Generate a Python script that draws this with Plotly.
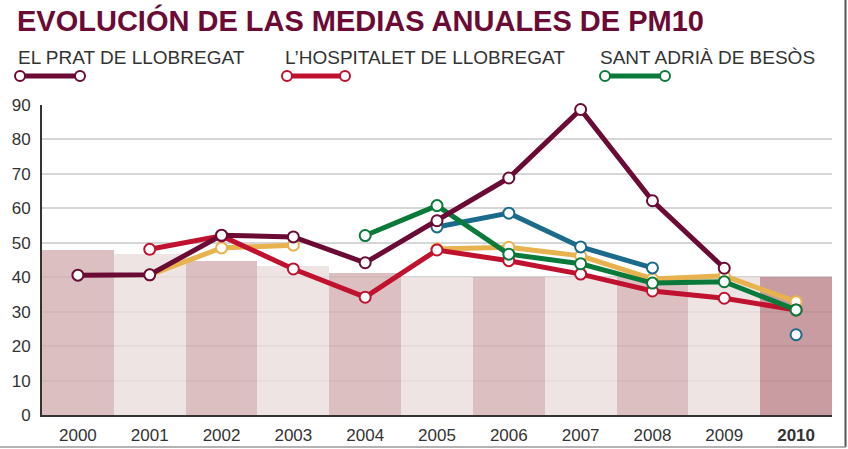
import plotly.graph_objects as go

years = [2000, 2001, 2002, 2003, 2004, 2005, 2006, 2007, 2008, 2009, 2010]
tick_labels = ["2000", "2001", "2002", "2003", "2004", "2005", "2006", "2007", "2008", "2009", "<b>2010</b>"]

# background bars (annual reference values)
bar_values = [48.0, 46.8, 44.8, 43.3, 41.3, 40.1, 40.0, 40.0, 40.0, 40.0, 40.0]

el_prat = [40.6, 40.7, 52.2, 51.7, 44.2, 56.4, 68.8, 88.7, 62.2, 42.6, None]
hospitalet = [None, 48.1, 52.0, 42.4, 34.2, 47.9, 44.8, 40.9, 36.0, 33.9, 30.5]
sant_adria = [None, None, None, None, 52.1, 60.8, 46.7, 43.9, 38.3, 38.7, 30.5]
yellow_series = [None, 40.7, 48.5, 49.3, None, 48.2, 48.7, 46.2, 39.5, 40.4, 32.9]
blue_series = [None, None, None, None, None, 54.6, 58.6, 48.8, 42.7, None, 23.3]

legend_names = ["EL PRAT DE LLOBREGAT", "L\u2019HOSPITALET DE LLOBREGAT", "SANT ADRI\u00c0 DE BES\u00d2S"]
title_text = "EVOLUCI\u00d3N DE LAS MEDIAS ANUALES DE PM10"

MAROON = "#6b0a35"
RED = "#c0112f"
GREEN = "#0a7a3a"
YELLOW = "#e8b24e"
BLUE = "#1b6b8c"

bar_colors = ["rgba(210,175,178,0.8)" if i % 2 == 0 else "rgba(235,221,221,0.8)" for i in range(len(years))]
bar_colors[-1] = "rgba(188,131,139,0.8)"

fig = go.Figure()
fig.add_trace(go.Bar(x=years, y=bar_values, marker=dict(color=bar_colors, line=dict(width=0)),
                     width=1, hoverinfo="skip", showlegend=False))

def add_line(vals, color):
    fig.add_trace(go.Scatter(
        x=years, y=vals, mode="lines+markers", connectgaps=False, showlegend=False,
        line=dict(color=color, width=5),
        marker=dict(size=11, color="white", line=dict(color=color, width=2)),
        cliponaxis=False))

add_line(yellow_series, YELLOW)
add_line(blue_series, BLUE)
add_line(hospitalet, RED)
add_line(sant_adria, GREEN)
add_line(el_prat, MAROON)

FW, FH = 848, 449
# plot area in page pixels
L, R, T, B = 42, 832, 105, 415
W, H = R - L, B - T
def px(xp):
    return (xp - L) / W
def py(yp):
    return (B - yp) / H

shapes = []
annotations = []
annotations.append(dict(text="<b>" + title_text + "</b>", x=px(15), y=py(20), xref="paper", yref="paper",
                        xanchor="left", yanchor="middle", showarrow=False,
                        font=dict(family="Liberation Sans", size=29, color=MAROON)))

leg = [(18, 20, 80, MAROON), (285, 287, 345, RED), (600, 605, 665, GREEN)]
for name, (tx, lx0, lx1, col) in zip(legend_names, leg):
    annotations.append(dict(text=name, x=px(tx - 2), y=py(57), xref="paper", yref="paper",
                            xanchor="left", yanchor="middle", showarrow=False,
                            font=dict(family="Liberation Sans", size=19, color="#333333")))
    shapes.append(dict(type="line", xref="paper", yref="paper", x0=px(lx0), x1=px(lx1),
                       y0=py(76), y1=py(76), line=dict(color=col, width=5)))
    for cx in (lx0, lx1):
        shapes.append(dict(type="circle", xref="paper", yref="paper", xsizemode="pixel", ysizemode="pixel",
                           xanchor=px(cx), yanchor=py(76), x0=-5, x1=5, y0=-5, y1=5,
                           fillcolor="white", line=dict(color=col, width=2)))

# outer frame (right and bottom edges)
shapes.append(dict(type="line", xref="paper", yref="paper", x0=px(845.5), x1=px(845.5), y0=py(447), y1=py(0),
                   line=dict(color="#555555", width=2)))
shapes.append(dict(type="line", xref="paper", yref="paper", x0=px(0), x1=px(846), y0=py(447), y1=py(447),
                   line=dict(color="#999999", width=1.5)))

fig.update_layout(
    width=FW, height=FH,
    margin=dict(l=L, r=FW - R, t=T, b=FH - B, pad=0, autoexpand=False),
    paper_bgcolor="white", plot_bgcolor="white",
    bargap=0,
    shapes=shapes, annotations=annotations,
    font=dict(family="Liberation Sans", color="#333333"),
    xaxis=dict(range=[1999.5, 2010.5], tickmode="array", tickvals=years, ticktext=tick_labels,
               showgrid=False, showline=True, linecolor="#333333", linewidth=2, ticks="",
               ticklabelstandoff=4, automargin=False,
               tickfont=dict(size=17, color="#333333"), zeroline=False, fixedrange=True),
    yaxis=dict(range=[0, 90], tickmode="array", tickvals=list(range(0, 91, 10)),
               showgrid=True, gridcolor="#d6d6d6", gridwidth=2, showline=True, linecolor="#333333",
               linewidth=2, ticks="", ticklabelstandoff=6, automargin=False,
               tickfont=dict(size=17, color="#333333"),
               zeroline=False, fixedrange=True),
)

page_fix = (
    "var s=document.createElement('style');"
    "s.textContent='html,body{margin:0;padding:0;width:848px;height:449px;overflow:hidden;}"
    "body>div{display:block;height:449px;overflow:hidden;}';"
    "document.head.appendChild(s);"
)

fig.write_html("out.html", config={"displayModeBar": False}, post_script=page_fix)
